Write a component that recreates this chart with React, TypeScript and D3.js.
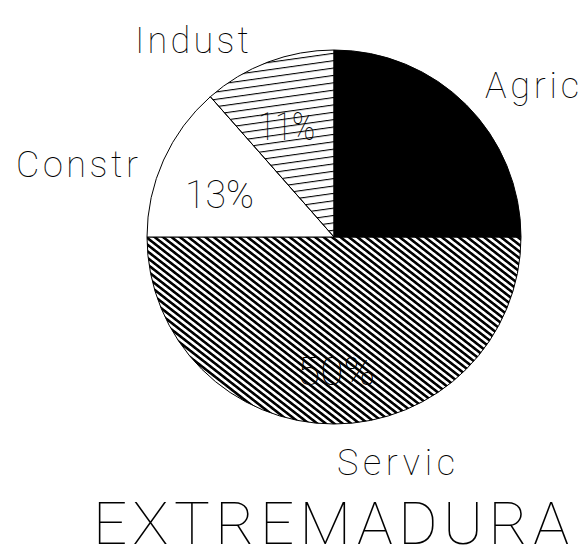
import React from "react";
import * as d3 from "d3";

const categories = ["Agric", "Servic", "Constr", "Indust"];
const values = [25, 50, 13.5, 11.5];
const pctLabels = ["", "50%", "13%", "11%"];
const title = "EXTREMADURA";

const W = 584;
const H = 550;
const cx = 334;
const cy = 237;
const R = 187;

// label layout (x start, baseline, text length)
const labelPos: Record<string, { x: number; y: number; len: number }> = {
  Agric: { x: 485, y: 98, len: 94 },
  Servic: { x: 337, y: 475, len: 118 },
  Constr: { x: 16, y: 177, len: 122 },
  Indust: { x: 135, y: 53, len: 114 },
};
const pctPos: Record<string, { x: number; y: number; len: number }> = {
  Servic: { x: 297, y: 385, len: 78 },
  Constr: { x: 185, y: 208, len: 69 },
  Indust: { x: 258, y: 140, len: 57 },
};
const fills: Record<string, string> = {
  Agric: "#000",
  Servic: "url(#hatchDiag)",
  Constr: "#fff",
  Indust: "url(#hatchHoriz)",
};

export default function App() {
  const pie = d3
    .pie<number>()
    .sort(null)
    .startAngle(0)
    .endAngle(2 * Math.PI)
    .value((d) => d);
  const arcs = pie(values);
  const arc = d3.arc<d3.PieArcDatum<number>>().innerRadius(0).outerRadius(R);
  const thinFont = "Roboto, 'Liberation Sans', sans-serif";

  return (
    <svg width={W} height={H} style={{ position: "absolute", left: 0, top: 0, background: "#fff" }}>
      <defs>
        <pattern id="hatchDiag" patternUnits="userSpaceOnUse" width="20" height="5.2" patternTransform="rotate(38)">
          <rect x="0" y="0" width="20" height="2.6" fill="#000" />
        </pattern>
        <pattern id="hatchHoriz" patternUnits="userSpaceOnUse" width="20" height="7.3" patternTransform="rotate(-8)">
          <rect x="0" y="0" width="20" height="1.1" fill="#000" />
        </pattern>
      </defs>
      <rect x={0} y={0} width={W} height={H} fill="#fff" />
      <g transform={`translate(${cx},${cy})`}>
        {arcs.map((a, i) => (
          <path key={categories[i]} d={arc(a) || ""} fill={fills[categories[i]]} stroke="#000" strokeWidth={1} />
        ))}
      </g>
      {categories.map((c, i) => {
        const p = pctPos[c];
        if (!p || !pctLabels[i]) return null;
        return (
          <text
            key={"p" + c}
            x={p.x}
            y={p.y}
            fontFamily={thinFont}
            fontWeight={100}
            fontSize={39}
            textLength={p.len}
            lengthAdjust="spacingAndGlyphs"
            fill="#000"
          >
            {pctLabels[i]}
          </text>
        );
      })}
      {categories.map((c) => {
        const p = labelPos[c];
        return (
          <text
            key={"l" + c}
            x={p.x}
            y={p.y}
            fontFamily={thinFont}
            fontWeight={100}
            fontSize={36}
            textLength={p.len}
            lengthAdjust="spacing"
            fill="#000"
          >
            {c}
          </text>
        );
      })}
      <text
        x={93}
        y={544}
        fontFamily={thinFont}
        fontWeight={100}
        fontSize={60}
        textLength={476}
        lengthAdjust="spacing"
        fill="#000"
      >
        {title}
      </text>
    </svg>
  );
}
